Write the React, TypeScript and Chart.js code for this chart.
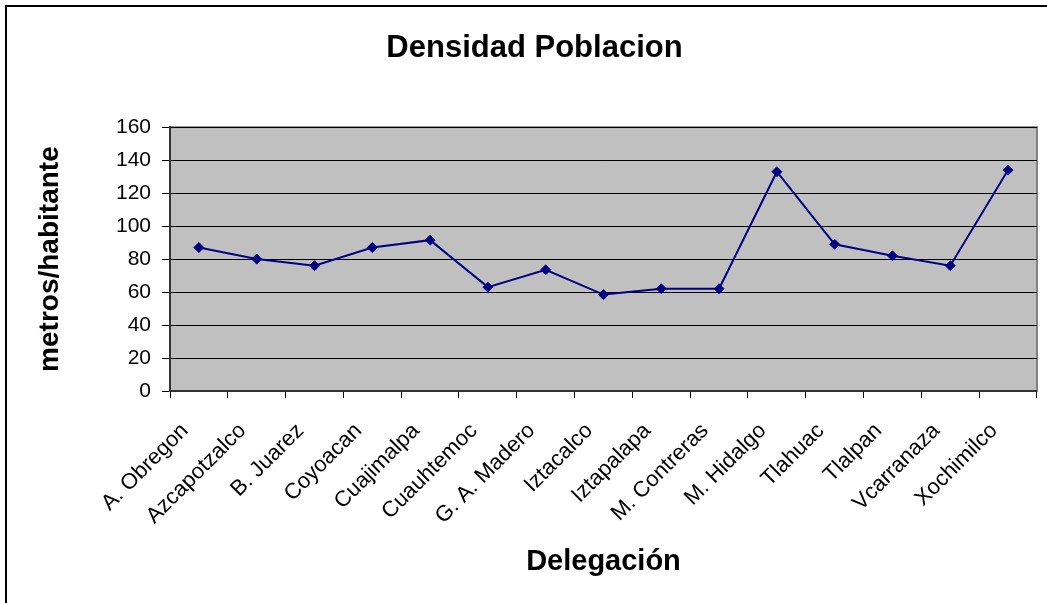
import React, { useEffect, useRef } from "react";
import { Chart, registerables } from "chart.js";

Chart.register(...registerables);

const categories = [
  "A. Obregon",
  "Azcapotzalco",
  "B. Juarez",
  "Coyoacan",
  "Cuajimalpa",
  "Cuauhtemoc",
  "G. A. Madero",
  "Iztacalco",
  "Iztapalapa",
  "M. Contreras",
  "M. Hidalgo",
  "Tlahuac",
  "Tlalpan",
  "Vcarranaza",
  "Xochimilco",
];

const density = [87, 80, 76, 87, 91.5, 63, 73.5, 58.5, 62, 62, 133, 89, 82, 76, 134];

const yMin = 0;
const yMax = 160;
const yStep = 20;

const chartTitle = "Densidad Poblacion";
const xTitle = "Delegación";
const yTitle = "metros/habitante";

const FONT = "'Liberation Sans', Arial, sans-serif";

const framePlugin = {
  id: "frame",
  beforeDraw(chart: any) {
    const ctx = chart.ctx;
    const { width, height } = chart;
    ctx.save();
    ctx.fillStyle = "#ffffff";
    ctx.fillRect(0, 0, width, height);
    ctx.strokeStyle = "#000000";
    ctx.lineWidth = 2;
    ctx.beginPath();
    ctx.moveTo(6, height);
    ctx.lineTo(6, 6);
    ctx.lineTo(width, 6);
    ctx.stroke();
    const { left, top, right, bottom } = chart.chartArea;
    ctx.fillStyle = "#C0C0C0";
    ctx.fillRect(left, top, right - left, bottom - top);
    ctx.strokeStyle = "#808080";
    ctx.lineWidth = 2;
    ctx.strokeRect(left, top, right - left, bottom - top);
    ctx.restore();
  },
};

export default function App() {
  const ref = useRef<HTMLCanvasElement | null>(null);

  useEffect(() => {
    document.body.style.margin = "0";
    const canvas = ref.current;
    if (!canvas) return;
    const chart = new Chart(canvas, {
      type: "line",
      data: {
        labels: categories,
        datasets: [
          {
            data: density,
            borderColor: "#000080",
            backgroundColor: "#000080",
            borderWidth: 2,
            pointStyle: "rectRot",
            pointRadius: 5,
            pointBorderWidth: 1,
            pointBackgroundColor: "#000080",
            pointBorderColor: "#000080",
            tension: 0,
            fill: false,
          },
        ],
      },
      options: {
        responsive: false,
        animation: false,
        devicePixelRatio: 1,
        layout: { padding: { left: 30, right: 8, top: 0, bottom: 0 } },
        plugins: {
          legend: { display: false },
          tooltip: { enabled: false },
          title: {
            display: true,
            text: chartTitle,
            color: "#000",
            font: { family: FONT, size: 31, weight: "bold" },
            padding: { top: 30, bottom: 60 },
          },
        },
        scales: {
          x: {
            offset: true,
            grid: {
              display: true,
              offset: true,
              drawOnChartArea: false,
              drawTicks: true,
              tickLength: 7,
              color: "#000",
            },
            border: { display: true, color: "#333", width: 2 },
            ticks: {
              autoSkip: false,
              maxRotation: 45,
              minRotation: 45,
              color: "#000",
              padding: 20,
              labelOffset: -14,
              font: { family: FONT, size: 22 },
            },
            title: {
              display: true,
              text: xTitle,
              color: "#000",
              font: { family: FONT, size: 29, weight: "bold" },
              padding: { top: 0, bottom: 24 },
            },
            afterFit: (s: any) => {
              s.height = 212;
            },
          },
          y: {
            min: yMin,
            max: yMax,
            grid: {
              color: "#000",
              lineWidth: 1,
              drawTicks: true,
              tickLength: 8,
            },
            border: { display: true, color: "#333", width: 2 },
            ticks: {
              stepSize: yStep,
              color: "#000",
              padding: 11,
              font: { family: FONT, size: 21 },
            },
            title: {
              display: true,
              text: yTitle,
              color: "#000",
              font: { family: FONT, size: 28, weight: "bold" },
              padding: { top: 3, bottom: 0 },
            },
            afterFit: (s: any) => {
              s.width = 140;
            },
          },
        },
      },
      plugins: [framePlugin],
    });
    return () => chart.destroy();
  }, []);

  return (
    <div style={{ width: 1047, height: 603 }}>
      <canvas ref={ref} width={1047} height={603} style={{ display: "block" }} />
    </div>
  );
}
